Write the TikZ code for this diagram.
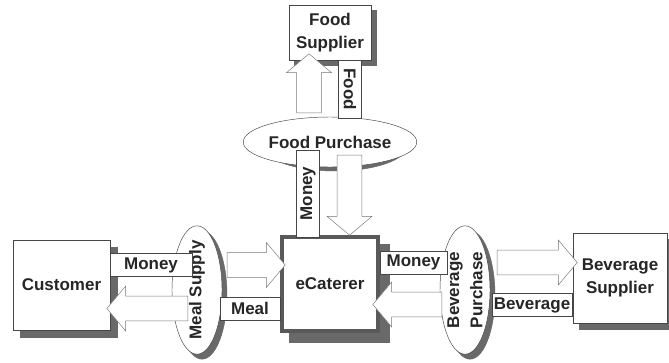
\documentclass[tikz,border=0pt]{standalone}
\usepackage{fontspec}
\setmainfont{Liberation Sans}
\usetikzlibrary{shapes.geometric,shapes.arrows}
\definecolor{paper}{RGB}{255,255,255}
\definecolor{shadowgray}{RGB}{105,105,105}
\definecolor{linegray}{RGB}{70,70,70}
\definecolor{arrowgray}{RGB}{120,120,120}

\begin{document}
\begin{tikzpicture}[
    x=0.03cm, y=-0.03cm,
    every node/.style={font=\fontsize{14.5}{20}\selectfont\bfseries, text=black!85},
    party/.style={rectangle, draw=linegray, fill=paper, align=center, inner sep=0pt},
    process/.style={ellipse, draw=linegray, fill=paper, inner sep=0pt},
    flow/.style={rectangle, draw=linegray, fill=paper, inner sep=0pt, minimum height=0.68cm},
    blockarrow/.style={single arrow, draw=arrowgray, fill=paper, inner sep=0pt,
        text height=0.36cm, text depth=0.36cm,
        minimum width=1.35cm, single arrow head extend=0.3cm, single arrow tip angle=100},
    shadowbox/.style={rectangle, fill=shadowgray, draw=shadowgray, inner sep=0pt},
    shadowoval/.style={ellipse, fill=shadowgray, draw=shadowgray, inner sep=0pt}
]
    \path[use as bounding box] (0,0) rectangle (669,362);

    % shadows
    \node[shadowbox, minimum width=2.46cm, minimum height=1.65cm] (foodsupsh) at (335,37.5) {};
    \node[shadowbox, minimum width=2.91cm, minimum height=2.7cm] (customersh) at (68.5,292) {};
    \node[shadowbox, minimum width=2.82cm, minimum height=2.7cm] (bevsupsh) at (626,284) {};
    \node[shadowbox, minimum width=3.0cm, minimum height=2.94cm] (ecatsh) at (339,293) {};
    \node[shadowoval, minimum width=4.32cm, minimum height=1.5cm] (foodpursh) at (335,146) {};
    \node[shadowoval, minimum width=1.5cm, minimum height=3.85cm] (mealsupsh) at (202,295) {};
    \node[shadowoval, minimum width=1.5cm, minimum height=3.85cm] (bevpursh) at (470,295) {};

    % processes
    \node[process, minimum width=4.32cm, minimum height=1.5cm] (foodpur) at (330,142) {Food Purchase};
    \node[process, minimum width=1.5cm, minimum height=3.85cm] (mealsup) at (197,290) {};
    \node[rotate=90] (mealsuptxt) at (mealsup) {Meal Supply};
    \node[process, minimum width=1.5cm, minimum height=3.85cm] (bevpur) at (465,290) {};
    \node[rotate=90, align=center] (bevpurtxt) at (bevpur) {Beverage\\Purchase};

    % parties
    \node[party, minimum width=2.46cm, minimum height=1.65cm] (foodsup) at (330,32.5) {Food\\Supplier};
    \node[party, minimum width=2.91cm, minimum height=2.7cm] (customer) at (61.5,285) {Customer};
    \node[party, minimum width=2.82cm, minimum height=2.7cm] (bevsup) at (620,278) {Beverage\\Supplier};
    \node[party, line width=3.4pt, draw=black!65, minimum width=2.88cm, minimum height=2.82cm] (ecat) at (330,284) {eCaterer};

    % food supplier flows
    \node[blockarrow, rotate=90, minimum height=1.77cm] (upmoney) at (309,88.5) {};
    \node[flow, rotate=-90, minimum width=1.74cm] (lblfood) at (350,89) {Food};
    \node[flow, rotate=90, minimum width=2.61cm] (lblmoney0) at (308,193.5) {Money};
    \node[blockarrow, rotate=-90, minimum height=2.4cm] (downfood) at (349.5,190) {};

    % customer flows
    \node[flow, minimum width=2.46cm] (lblmoney1) at (151,265) {Money};
    \node[blockarrow, minimum height=1.74cm] (rightmoney) at (251,265) {};
    \node[blockarrow, shape border rotate=180, minimum height=2.43cm] (leftmeal) at (152.5,308.5) {};
    \node[flow, minimum width=1.8cm] (lblmeal) at (250,308.5) {Meal};

    % beverage supplier flows
    \node[flow, minimum width=2.01cm] (lblmoney2) at (413.5,262.5) {Money};
    \node[blockarrow, minimum height=2.4cm] (rightmoney2) at (532,262.5) {};
    \node[blockarrow, shape border rotate=180, minimum height=2.07cm] (leftbev) at (412.5,304.5) {};
    \node[flow, minimum width=2.4cm] (lblbev) at (532,305) {Beverage};
\end{tikzpicture}
\end{document}
